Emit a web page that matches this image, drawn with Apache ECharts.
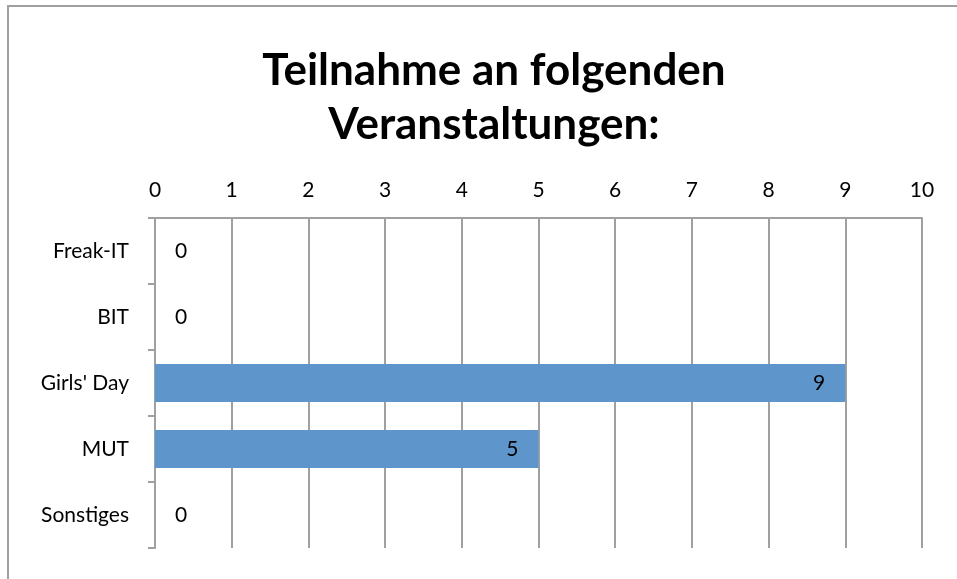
<!DOCTYPE html>
<html>
<head>
<meta charset="utf-8">
<script src="https://cdn.jsdelivr.net/npm/echarts@6/dist/echarts.min.js"></script>
<style>
  html, body { margin: 0; padding: 0; background: #fff; }
  #chart { width: 957px; height: 579px; }
</style>
</head>
<body>
<div id="chart"></div>
<script>
const categories = ['Freak-IT', 'BIT', "Girls' Day", 'MUT', 'Sonstiges']
const values = [0, 0, 9, 5, 0]
const titleText = 'Teilnahme an folgenden\nVeranstaltungen:'

const chart = echarts.init(document.getElementById('chart'))
const fontFamily = 'Lato, "Open Sans", sans-serif'

chart.setOption({
  animation: false,
  title: {
    text: titleText,
    left: 489,
    top: 39,
    textAlign: 'center',
    textStyle: {
      fontFamily: fontFamily,
      fontWeight: 'bold',
      fontSize: 44,
      lineHeight: 54,
      color: '#000'
    }
  },
  graphic: [{
    type: 'rect',
    shape: { x: 8, y: 6, width: 1000, height: 1000 },
    style: { fill: 'none', stroke: '#a0a0a0', lineWidth: 2 },
    silent: true
  }],
  grid: {
    left: 155,
    right: 35,
    top: 218,
    bottom: 31
  },
  xAxis: {
    type: 'value',
    position: 'top',
    min: 0,
    max: 10,
    interval: 1,
    axisLine: { show: true, lineStyle: { color: '#a0a0a0', width: 2 } },
    axisTick: { show: false },
    splitLine: { show: true, lineStyle: { color: '#a0a0a0', width: 2 } },
    axisLabel: { fontFamily: fontFamily, fontSize: 21, color: '#000', margin: 17 }
  },
  yAxis: {
    type: 'category',
    inverse: true,
    data: categories,
    axisLine: { show: true, lineStyle: { color: '#a0a0a0', width: 2 } },
    axisTick: { show: true, length: 7, lineStyle: { color: '#a0a0a0', width: 2 } },
    splitLine: { show: false },
    axisLabel: { fontFamily: fontFamily, fontSize: 21, color: '#000', margin: 26 }
  },
  series: [{
    type: 'bar',
    barWidth: 38,
    itemStyle: { color: '#5E95CA' },
    label: {
      show: true,
      distance: 20,
      fontFamily: fontFamily,
      fontSize: 21,
      color: '#000'
    },
    data: values.map(v => ({
      value: v,
      label: { position: v === 0 ? 'right' : 'insideRight' }
    }))
  }]
})
</script>
</body>
</html>
